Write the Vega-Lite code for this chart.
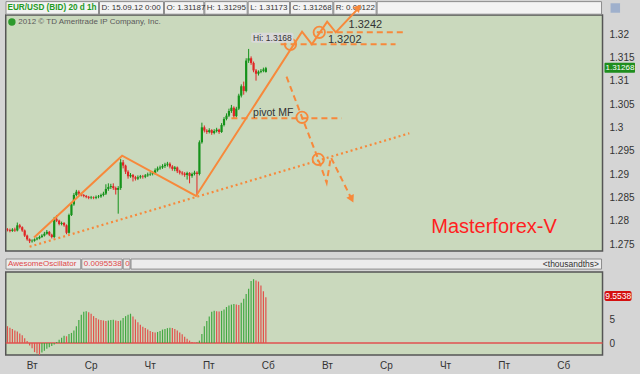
{
"$schema":"https://vega.github.io/schema/vega-lite/v6.json",
"width":640,"height":374,"autosize":{"type":"none"},"padding":0,
"background":"#d5d5d5",
"data":{"values":[{}]},
"config":{"view":{"stroke":null},"axis":{"grid":false,"domain":false,"ticks":false,"titleOpacity":0,"labelFont":"Liberation Sans","labelFontSize":10,"labelColor":"#333333"}},
"datasets":{
"candles":[
{"t":1,"o":1.2781,"h":1.2784,"l":1.2777,"c":1.2780},{"t":2,"o":1.2780,"h":1.2783,"l":1.2775,"c":1.2778},{"t":3,"o":1.2778,"h":1.2784,"l":1.2776,"c":1.2781},{"t":4,"o":1.2781,"h":1.2785,"l":1.2776,"c":1.2779},{"t":5,"o":1.2779,"h":1.2796,"l":1.2777,"c":1.2790},{"t":6,"o":1.2790,"h":1.2793,"l":1.2783,"c":1.2786},{"t":7,"o":1.2786,"h":1.2788,"l":1.2776,"c":1.2779},{"t":8,"o":1.2779,"h":1.2781,"l":1.2765,"c":1.2768},{"t":9,"o":1.2768,"h":1.2770,"l":1.2757,"c":1.2760},{"t":10,"o":1.2760,"h":1.2762,"l":1.2752,"c":1.2756},
{"t":11,"o":1.2756,"h":1.2760,"l":1.2753,"c":1.2757},{"t":12,"o":1.2757,"h":1.2762,"l":1.2755,"c":1.2760},{"t":13,"o":1.2760,"h":1.2765,"l":1.2758,"c":1.2762},{"t":14,"o":1.2762,"h":1.2768,"l":1.2760,"c":1.2765},{"t":15,"o":1.2765,"h":1.2771,"l":1.2763,"c":1.2768},{"t":16,"o":1.2768,"h":1.2776,"l":1.2766,"c":1.2772},{"t":17,"o":1.2772,"h":1.2780,"l":1.2770,"c":1.2776},{"t":18,"o":1.2776,"h":1.2778,"l":1.2767,"c":1.2770},{"t":19,"o":1.2770,"h":1.2772,"l":1.2762,"c":1.2765},{"t":20,"o":1.2765,"h":1.2808,"l":1.2763,"c":1.2803},
{"t":21,"o":1.2803,"h":1.2812,"l":1.2797,"c":1.2800},{"t":22,"o":1.2800,"h":1.2802,"l":1.2790,"c":1.2793},{"t":23,"o":1.2793,"h":1.2798,"l":1.2790,"c":1.2795},{"t":24,"o":1.2795,"h":1.2797,"l":1.2787,"c":1.2790},{"t":25,"o":1.2790,"h":1.2792,"l":1.2771,"c":1.2774},{"t":26,"o":1.2774,"h":1.2815,"l":1.2772,"c":1.2812},{"t":27,"o":1.2812,"h":1.2838,"l":1.2810,"c":1.2835},{"t":28,"o":1.2835,"h":1.2859,"l":1.2832,"c":1.2855},{"t":29,"o":1.2855,"h":1.2866,"l":1.2852,"c":1.2862},{"t":30,"o":1.2862,"h":1.2865,"l":1.2855,"c":1.2858},
{"t":31,"o":1.2858,"h":1.2860,"l":1.2852,"c":1.2855},{"t":32,"o":1.2855,"h":1.2857,"l":1.2850,"c":1.2853},{"t":33,"o":1.2853,"h":1.2855,"l":1.2848,"c":1.2851},{"t":34,"o":1.2851,"h":1.2853,"l":1.2846,"c":1.2849},{"t":35,"o":1.2849,"h":1.2853,"l":1.2846,"c":1.2850},{"t":36,"o":1.2850,"h":1.2852,"l":1.2846,"c":1.2849},{"t":37,"o":1.2849,"h":1.2854,"l":1.2846,"c":1.2851},{"t":38,"o":1.2851,"h":1.2855,"l":1.2848,"c":1.2852},{"t":39,"o":1.2852,"h":1.2858,"l":1.2849,"c":1.2855},{"t":40,"o":1.2855,"h":1.2862,"l":1.2852,"c":1.2858},
{"t":41,"o":1.2858,"h":1.2878,"l":1.2855,"c":1.2868},{"t":42,"o":1.2868,"h":1.2880,"l":1.2864,"c":1.2872},{"t":43,"o":1.2872,"h":1.2879,"l":1.2868,"c":1.2874},{"t":44,"o":1.2874,"h":1.2880,"l":1.2866,"c":1.2870},{"t":45,"o":1.2870,"h":1.2873,"l":1.2856,"c":1.2866},{"t":46,"o":1.2866,"h":1.2874,"l":1.2815,"c":1.2870},{"t":47,"o":1.2870,"h":1.2932,"l":1.2866,"c":1.2925},{"t":48,"o":1.2925,"h":1.2930,"l":1.2912,"c":1.2918},{"t":49,"o":1.2918,"h":1.2920,"l":1.2900,"c":1.2905},{"t":50,"o":1.2905,"h":1.2908,"l":1.2890,"c":1.2895},
{"t":51,"o":1.2895,"h":1.2902,"l":1.2892,"c":1.2898},{"t":52,"o":1.2898,"h":1.2900,"l":1.2884,"c":1.2893},{"t":53,"o":1.2893,"h":1.2896,"l":1.2886,"c":1.2890},{"t":54,"o":1.2890,"h":1.2897,"l":1.2887,"c":1.2893},{"t":55,"o":1.2893,"h":1.2898,"l":1.2890,"c":1.2895},{"t":56,"o":1.2895,"h":1.2898,"l":1.2890,"c":1.2894},{"t":57,"o":1.2894,"h":1.2900,"l":1.2891,"c":1.2897},{"t":58,"o":1.2897,"h":1.2903,"l":1.2894,"c":1.2899},{"t":59,"o":1.2899,"h":1.2904,"l":1.2896,"c":1.2900},{"t":60,"o":1.2900,"h":1.2906,"l":1.2897,"c":1.2902},
{"t":61,"o":1.2902,"h":1.2912,"l":1.2899,"c":1.2908},{"t":62,"o":1.2908,"h":1.2916,"l":1.2905,"c":1.2912},{"t":63,"o":1.2912,"h":1.2918,"l":1.2909,"c":1.2914},{"t":64,"o":1.2914,"h":1.2921,"l":1.2911,"c":1.2917},{"t":65,"o":1.2917,"h":1.2924,"l":1.2913,"c":1.2920},{"t":66,"o":1.2920,"h":1.2926,"l":1.2916,"c":1.2922},{"t":67,"o":1.2922,"h":1.2925,"l":1.2912,"c":1.2916},{"t":68,"o":1.2916,"h":1.2919,"l":1.2907,"c":1.2911},{"t":69,"o":1.2911,"h":1.2917,"l":1.2906,"c":1.2914},{"t":70,"o":1.2914,"h":1.2916,"l":1.2902,"c":1.2906},
{"t":71,"o":1.2906,"h":1.2909,"l":1.2899,"c":1.2903},{"t":72,"o":1.2903,"h":1.2906,"l":1.2897,"c":1.2901},{"t":73,"o":1.2901,"h":1.2904,"l":1.2894,"c":1.2898},{"t":74,"o":1.2898,"h":1.2905,"l":1.2888,"c":1.2902},{"t":75,"o":1.2902,"h":1.2904,"l":1.2880,"c":1.2896},{"t":76,"o":1.2896,"h":1.2903,"l":1.2892,"c":1.2900},{"t":77,"o":1.2900,"h":1.2907,"l":1.2897,"c":1.2903},{"t":78,"o":1.2903,"h":1.2906,"l":1.2855,"c":1.2900},{"t":79,"o":1.2900,"h":1.2972,"l":1.2897,"c":1.2968},{"t":80,"o":1.2968,"h":1.3010,"l":1.2965,"c":1.3000},
{"t":81,"o":1.3000,"h":1.3004,"l":1.2989,"c":1.2993},{"t":82,"o":1.2993,"h":1.2996,"l":1.2986,"c":1.2990},{"t":83,"o":1.2990,"h":1.2998,"l":1.2987,"c":1.2994},{"t":84,"o":1.2994,"h":1.2996,"l":1.2984,"c":1.2988},{"t":85,"o":1.2988,"h":1.2996,"l":1.2985,"c":1.2992},{"t":86,"o":1.2992,"h":1.2999,"l":1.2989,"c":1.2995},{"t":87,"o":1.2995,"h":1.2997,"l":1.2986,"c":1.2990},{"t":88,"o":1.2990,"h":1.3009,"l":1.2988,"c":1.3005},{"t":89,"o":1.3005,"h":1.3022,"l":1.3002,"c":1.3018},{"t":90,"o":1.3018,"h":1.3030,"l":1.3015,"c":1.3025},
{"t":91,"o":1.3025,"h":1.3040,"l":1.3022,"c":1.3035},{"t":92,"o":1.3035,"h":1.3048,"l":1.3031,"c":1.3042},{"t":93,"o":1.3042,"h":1.3045,"l":1.3020,"c":1.3024},{"t":94,"o":1.3024,"h":1.3044,"l":1.3021,"c":1.3040},{"t":95,"o":1.3040,"h":1.3072,"l":1.3037,"c":1.3068},{"t":96,"o":1.3068,"h":1.3092,"l":1.3064,"c":1.3088},{"t":97,"o":1.3088,"h":1.3098,"l":1.3070,"c":1.3078},{"t":98,"o":1.3078,"h":1.3148,"l":1.3075,"c":1.3143},{"t":99,"o":1.3143,"h":1.3168,"l":1.3138,"c":1.3148},{"t":100,"o":1.3148,"h":1.3152,"l":1.3134,"c":1.3138},
{"t":101,"o":1.3138,"h":1.3141,"l":1.3118,"c":1.3122},{"t":102,"o":1.3122,"h":1.3125,"l":1.3100,"c":1.3115},{"t":103,"o":1.3115,"h":1.3122,"l":1.3111,"c":1.3119},{"t":104,"o":1.3119,"h":1.3125,"l":1.3116,"c":1.3121},{"t":105,"o":1.3121,"h":1.3128,"l":1.3118,"c":1.3124},{"t":106,"o":1.31187,"h":1.31295,"l":1.31173,"c":1.31268}
],
"osc":[
{"t":1,"v":3.5,"d":"dn"},{"t":2,"v":3.2,"d":"dn"},{"t":3,"v":2.9,"d":"dn"},{"t":4,"v":2.6,"d":"dn"},{"t":5,"v":2.4,"d":"dn"},{"t":6,"v":2.0,"d":"dn"},{"t":7,"v":1.6,"d":"dn"},{"t":8,"v":1.0,"d":"dn"},{"t":9,"v":0.4,"d":"dn"},{"t":10,"v":-0.5,"d":"dn"},
{"t":11,"v":-1.1,"d":"dn"},{"t":12,"v":-1.9,"d":"dn"},{"t":13,"v":-2.2,"d":"dn"},{"t":14,"v":-2.5,"d":"dn"},{"t":15,"v":-2.0,"d":"up"},{"t":16,"v":-1.6,"d":"up"},{"t":17,"v":-1.2,"d":"up"},{"t":18,"v":-0.9,"d":"up"},{"t":19,"v":-0.6,"d":"up"},{"t":20,"v":-0.3,"d":"up"},
{"t":21,"v":0.2,"d":"up"},{"t":22,"v":0.7,"d":"up"},{"t":23,"v":1.1,"d":"up"},{"t":24,"v":1.5,"d":"up"},{"t":25,"v":1.4,"d":"dn"},{"t":26,"v":1.9,"d":"up"},{"t":27,"v":2.1,"d":"up"},{"t":28,"v":2.6,"d":"up"},{"t":29,"v":3.5,"d":"up"},{"t":30,"v":4.8,"d":"up"},
{"t":31,"v":5.9,"d":"up"},{"t":32,"v":6.5,"d":"up"},{"t":33,"v":6.6,"d":"up"},{"t":34,"v":6.4,"d":"dn"},{"t":35,"v":6.1,"d":"dn"},{"t":36,"v":5.6,"d":"dn"},{"t":37,"v":5.2,"d":"dn"},{"t":38,"v":4.9,"d":"dn"},{"t":39,"v":4.8,"d":"dn"},{"t":40,"v":4.7,"d":"dn"},
{"t":41,"v":4.6,"d":"dn"},{"t":42,"v":4.7,"d":"up"},{"t":43,"v":4.8,"d":"up"},{"t":44,"v":4.85,"d":"up"},{"t":45,"v":4.7,"d":"dn"},{"t":46,"v":4.6,"d":"dn"},{"t":47,"v":4.7,"d":"up"},{"t":48,"v":5.2,"d":"up"},{"t":49,"v":5.6,"d":"up"},{"t":50,"v":5.9,"d":"up"},
{"t":51,"v":6.1,"d":"up"},{"t":52,"v":5.5,"d":"dn"},{"t":53,"v":4.9,"d":"dn"},{"t":54,"v":4.3,"d":"dn"},{"t":55,"v":3.8,"d":"dn"},{"t":56,"v":3.4,"d":"dn"},{"t":57,"v":3.1,"d":"dn"},{"t":58,"v":2.8,"d":"dn"},{"t":59,"v":2.5,"d":"dn"},{"t":60,"v":2.3,"d":"dn"},
{"t":61,"v":2.2,"d":"dn"},{"t":62,"v":2.3,"d":"up"},{"t":63,"v":2.5,"d":"up"},{"t":64,"v":2.8,"d":"up"},{"t":65,"v":2.9,"d":"up"},{"t":66,"v":3.1,"d":"up"},{"t":67,"v":3.2,"d":"up"},{"t":68,"v":3.1,"d":"dn"},{"t":69,"v":2.9,"d":"dn"},{"t":70,"v":2.6,"d":"dn"},
{"t":71,"v":2.2,"d":"dn"},{"t":72,"v":1.8,"d":"dn"},{"t":73,"v":1.3,"d":"dn"},{"t":74,"v":0.9,"d":"dn"},{"t":75,"v":0.5,"d":"dn"},{"t":76,"v":0.2,"d":"dn"},{"t":77,"v":0.05,"d":"dn"},{"t":78,"v":0.1,"d":"up"},{"t":79,"v":0.5,"d":"up"},{"t":80,"v":1.9,"d":"up"},
{"t":81,"v":3.5,"d":"up"},{"t":82,"v":4.6,"d":"up"},{"t":83,"v":5.5,"d":"up"},{"t":84,"v":6.5,"d":"up"},{"t":85,"v":6.7,"d":"up"},{"t":86,"v":6.6,"d":"dn"},{"t":87,"v":6.55,"d":"dn"},{"t":88,"v":6.7,"d":"up"},{"t":89,"v":7.0,"d":"up"},{"t":90,"v":7.5,"d":"up"},
{"t":91,"v":7.8,"d":"up"},{"t":92,"v":8.0,"d":"up"},{"t":93,"v":8.1,"d":"up"},{"t":94,"v":8.0,"d":"dn"},{"t":95,"v":7.9,"d":"dn"},{"t":96,"v":8.4,"d":"up"},{"t":97,"v":9.2,"d":"up"},{"t":98,"v":10.2,"d":"up"},{"t":99,"v":11.3,"d":"up"},{"t":100,"v":12.9,"d":"up"},
{"t":101,"v":13.3,"d":"up"},{"t":102,"v":13.0,"d":"dn"},{"t":103,"v":12.8,"d":"dn"},{"t":104,"v":12.0,"d":"dn"},{"t":105,"v":10.8,"d":"dn"},{"t":106,"v":9.5538,"d":"dn"}
],
"hdr":[
{"a":0.4,"b":38,"s":""},{"a":38.4,"b":64.4,"s":"D: 15.09.12 0:00"},{"a":64.8,"b":80.8,"s":"O: 1.31187"},{"a":81.2,"b":98.4,"s":"H: 1.31295"},{"a":98.8,"b":115.6,"s":"L: 1.31173"},{"a":116,"b":133.2,"s":"C: 1.31268"},{"a":133.6,"b":150.8,"s":"R: 0.00122"},{"a":151.2,"b":242.4,"s":""}
],
"ohdr":[
{"a":0.4,"b":30.8,"s":"AwesomeOscillator"},{"a":31.2,"b":47.6,"s":"0.0095538"},{"a":48,"b":50.8,"s":"0"},{"a":51.2,"b":242.4,"s":""}
],
"solid":[
{"t":11.8,"p":1.2764},{"t":47.6,"p":1.29392},{"t":77.6,"p":1.28529},{"t":120.7,"p":1.32049},{"t":124.7,"p":1.31779},{"t":130.9,"p":1.32264},{"t":134.4,"p":1.32036},{"t":144.3,"p":1.3259}
],
"dashed":[
{"g":"a","t":126.7,"p":1.32036},{"g":"a","t":162.7,"p":1.32036},
{"g":"b","t":112,"p":1.31779},{"g":"b","t":158.7,"p":1.31779},
{"g":"c","t":92,"p":1.30194},{"g":"c","t":136.8,"p":1.30194},
{"g":"d","t":114.4,"p":1.31085},{"g":"d","t":120.7,"p":1.30215},{"g":"d","t":127.3,"p":1.29315},{"g":"d","t":130.7,"p":1.28814},{"g":"d","t":132.4,"p":1.29358},{"g":"d","t":140.6,"p":1.2849}
],
"dotted":[{"t":10,"p":1.27442},{"t":164.3,"p":1.29872}],
"circles":[{"t":116,"p":1.31779},{"t":127.7,"p":1.32036},{"t":120.7,"p":1.30215},{"t":127.3,"p":1.29315}]
},
"layer":[
{"layer":[
{"mark":{"type":"rect","fill":"#cad9bd","stroke":"#555555","strokeWidth":1.5},
 "encoding":{
  "x":{"datum":0.3,"type":"quantitative","scale":{"domain":[0,256],"nice":false,"zero":false},"title":null},
  "x2":{"datum":242.8},
  "y":{"datum":1.2735,"type":"quantitative","scale":{"domain":[1.247143,1.327286],"nice":false,"zero":false},"title":null,
   "axis":{"orient":"right","offset":-33,"labelPadding":2,"values":[1.275,1.28,1.285,1.29,1.295,1.3,1.305,1.31,1.315,1.32],"labelExpr":"format(datum.value,'.3~f')","labelAlign":"left","labelBaseline":"middle"}},
  "y2":{"datum":1.32407}}},
{"data":{"name":"hdr"},"mark":{"type":"rect","fill":"#f3f3f3","stroke":"#8c8c8c","strokeWidth":1},
 "encoding":{"x":{"field":"a","type":"quantitative","title":null},"x2":{"field":"b"},"y":{"datum":1.32424,"type":"quantitative","title":null},"y2":{"datum":1.32694}}},
{"data":{"name":"hdr"},"mark":{"type":"text","align":"left","baseline":"middle","dx":2,"font":"Liberation Sans","fontSize":8,"fill":"#333333"},
 "encoding":{"x":{"field":"a","type":"quantitative","title":null},"y":{"datum":1.32557,"type":"quantitative","title":null},"text":{"field":"s"}}},
{"mark":{"type":"text","align":"left","baseline":"middle","font":"Liberation Sans","fontSize":8.2,"fontWeight":"bold","fill":"#1f9a1f","text":"EUR/USD (BID) 20 d 1h"},
 "encoding":{"x":{"datum":1.0,"type":"quantitative","title":null},"y":{"datum":1.32557,"type":"quantitative","title":null}}},
{"mark":{"type":"point","shape":"square","filled":true,"fill":"#9fb0cc","size":90,"opacity":1},
 "encoding":{"x":{"datum":248,"type":"quantitative","title":null},"y":{"datum":1.32557,"type":"quantitative","title":null}}},
{"mark":{"type":"point","shape":"circle","filled":true,"fill":"#2c9a2c","size":55,"opacity":1},
 "encoding":{"x":{"datum":2.8,"type":"quantitative","title":null},"y":{"datum":1.32257,"type":"quantitative","title":null}}},
{"mark":{"type":"text","align":"left","baseline":"middle","font":"Liberation Sans","fontSize":8,"fill":"#5a5a5a","text":"2012 © TD Ameritrade IP Company, Inc."},
 "encoding":{"x":{"datum":5.4,"type":"quantitative","title":null},"y":{"datum":1.32257,"type":"quantitative","title":null}}},
{"data":{"name":"candles"},"mark":{"type":"rule","strokeWidth":1},
 "encoding":{"x":{"field":"t","type":"quantitative","title":null},"y":{"field":"l","type":"quantitative","title":null},"y2":{"field":"h"},
  "color":{"condition":{"test":"datum.c >= datum.o","value":"#15921a"},"value":"#e02626"}}},
{"data":{"name":"candles"},"mark":{"type":"bar","size":2.2},
 "encoding":{"x":{"field":"t","type":"quantitative","title":null},"y":{"field":"o","type":"quantitative","title":null},"y2":{"field":"c"},
  "color":{"condition":{"test":"datum.c >= datum.o","value":"#15921a"},"value":"#e02626"}}},
{"data":{"name":"dotted"},"mark":{"type":"line","stroke":"#f7893b","strokeWidth":2.2,"strokeDash":[2,3]},
 "encoding":{"x":{"field":"t","type":"quantitative","title":null},"y":{"field":"p","type":"quantitative","title":null}}},
{"data":{"name":"solid"},"mark":{"type":"line","stroke":"#f7893b","strokeWidth":2},
 "encoding":{"x":{"field":"t","type":"quantitative","title":null},"y":{"field":"p","type":"quantitative","title":null}}},
{"data":{"name":"dashed"},"mark":{"type":"line","stroke":"#f7893b","strokeWidth":2,"strokeDash":[6,4]},
 "encoding":{"x":{"field":"t","type":"quantitative","title":null},"y":{"field":"p","type":"quantitative","title":null},"detail":{"field":"g"}}},
{"data":{"name":"circles"},"mark":{"type":"point","shape":"circle","filled":false,"stroke":"#f7893b","strokeWidth":1.8,"size":130,"opacity":1},
 "encoding":{"x":{"field":"t","type":"quantitative","title":null},"y":{"field":"p","type":"quantitative","title":null}}},
{"mark":{"type":"point","shape":"triangle-up","filled":true,"fill":"#f7893b","size":70,"angle":43,"opacity":1},
 "encoding":{"x":{"datum":143.6,"type":"quantitative","title":null},"y":{"datum":1.3257,"type":"quantitative","title":null}}},
{"mark":{"type":"point","shape":"triangle-down","filled":true,"fill":"#f7893b","size":70,"angle":-27,"opacity":1},
 "encoding":{"x":{"datum":140.9,"type":"quantitative","title":null},"y":{"datum":1.2846,"type":"quantitative","title":null}}},
{"mark":{"type":"text","align":"left","baseline":"middle","font":"Liberation Sans","fontSize":11,"fill":"#333333","text":"1.3242"},
 "encoding":{"x":{"datum":139.6,"type":"quantitative","title":null},"y":{"datum":1.32193,"type":"quantitative","title":null}}},
{"mark":{"type":"text","align":"left","baseline":"middle","font":"Liberation Sans","fontSize":11,"fill":"#333333","text":"1.3202"},
 "encoding":{"x":{"datum":131.2,"type":"quantitative","title":null},"y":{"datum":1.31871,"type":"quantitative","title":null}}},
{"mark":{"type":"text","align":"left","baseline":"middle","font":"Liberation Sans","fontSize":10.5,"fill":"#333333","text":"pivot MF"},
 "encoding":{"x":{"datum":100.8,"type":"quantitative","title":null},"y":{"datum":1.30301,"type":"quantitative","title":null}}},
{"mark":{"type":"rect","fill":"#d9d9d9","cornerRadius":2},
 "encoding":{"x":{"datum":100,"type":"quantitative","title":null},"x2":{"datum":117.2},"y":{"datum":1.31814,"type":"quantitative","title":null},"y2":{"datum":1.32028}}},
{"mark":{"type":"text","align":"left","baseline":"middle","font":"Liberation Sans","fontSize":8.5,"fill":"#333333","text":"Hi: 1.3168"},
 "encoding":{"x":{"datum":100.8,"type":"quantitative","title":null},"y":{"datum":1.31921,"type":"quantitative","title":null}}},
{"mark":{"type":"text","align":"left","baseline":"middle","font":"Liberation Sans","fontSize":20,"fill":"#ff1f1f","text":"Masterforex-V"},
 "encoding":{"x":{"datum":173.2,"type":"quantitative","title":null},"y":{"datum":1.27864,"type":"quantitative","title":null}}},
{"mark":{"type":"rect","fill":"#1e8e1e","cornerRadius":1},
 "encoding":{"x":{"datum":243.6,"type":"quantitative","title":null},"x2":{"datum":256},"y":{"datum":1.31171,"type":"quantitative","title":null},"y2":{"datum":1.31385}}},
{"mark":{"type":"text","align":"left","baseline":"middle","font":"Liberation Sans","fontSize":8,"fill":"#ffffff","text":"1.31268"},
 "encoding":{"x":{"datum":244,"type":"quantitative","title":null},"y":{"datum":1.31278,"type":"quantitative","title":null}}}
]},
{"layer":[
{"mark":{"type":"rect","fill":"#cad9bd","stroke":"#555555","strokeWidth":1.5},
 "encoding":{
  "x":{"datum":0.3,"type":"quantitative","title":null,
   "axis":{"orient":"bottom","offset":-19,"labelPadding":5,"values":[10.8,34.8,58.8,82.6,106.8,130.8,154.8,178.8,202.6,226.8],"labelExpr":"['Вт','Ср','Чт','Пт','Сб'][floor((datum.value-10)/24)%5]","labelBaseline":"top"}},
  "x2":{"datum":242.8},
  "y":{"datum":-2.5,"type":"quantitative","scale":{"domain":[-6.458,71.458],"nice":false,"zero":false},"title":null,
   "axis":{"orient":"right","offset":-33,"labelPadding":2,"values":[0,5],"labelAlign":"left","labelBaseline":"middle"}},
  "y2":{"datum":14.79}}},
{"data":{"name":"ohdr"},"mark":{"type":"rect","fill":"#ececec","stroke":"#8c8c8c","strokeWidth":1},
 "encoding":{"x":{"field":"a","type":"quantitative","title":null},"x2":{"field":"b"},"y":{"datum":15.4,"type":"quantitative","title":null},"y2":{"datum":17.5}}},
{"data":{"name":"ohdr"},"mark":{"type":"text","align":"left","baseline":"middle","dx":2,"font":"Liberation Sans","fontSize":8,"fill":"#e04848"},
 "encoding":{"x":{"field":"a","type":"quantitative","title":null},"y":{"datum":16.45,"type":"quantitative","title":null},"text":{"field":"s"}}},
{"mark":{"type":"text","align":"right","baseline":"middle","font":"Liberation Sans","fontSize":8.5,"fill":"#333333","text":"<thousandths>"},
 "encoding":{"x":{"datum":241.4,"type":"quantitative","title":null},"y":{"datum":16.45,"type":"quantitative","title":null}}},
{"mark":{"type":"rule","stroke":"#e05050","strokeWidth":1.5},
 "encoding":{"x":{"datum":0.3,"type":"quantitative","title":null},"x2":{"datum":242.8},"y":{"datum":0,"type":"quantitative","title":null}}},
{"data":{"name":"osc"},"mark":{"type":"rule","strokeWidth":1.2},
 "encoding":{"x":{"field":"t","type":"quantitative","title":null},"y":{"field":"v","type":"quantitative","title":null},"y2":{"datum":0},
  "color":{"field":"d","type":"nominal","scale":{"domain":["up","dn"],"range":["#43a843","#e2524c"]},"legend":null}}},
{"mark":{"type":"rect","fill":"#d41010","cornerRadius":2},
 "encoding":{"x":{"datum":243.6,"type":"quantitative","title":null},"x2":{"datum":254.6},"y":{"datum":8.75,"type":"quantitative","title":null},"y2":{"datum":10.83}}},
{"mark":{"type":"text","align":"left","baseline":"middle","font":"Liberation Sans","fontSize":8.5,"fill":"#ffffff","text":"9.5538"},
 "encoding":{"x":{"datum":243.9,"type":"quantitative","title":null},"y":{"datum":9.79,"type":"quantitative","title":null}}}
]}
],
"resolve":{"scale":{"y":"independent"}}
}
